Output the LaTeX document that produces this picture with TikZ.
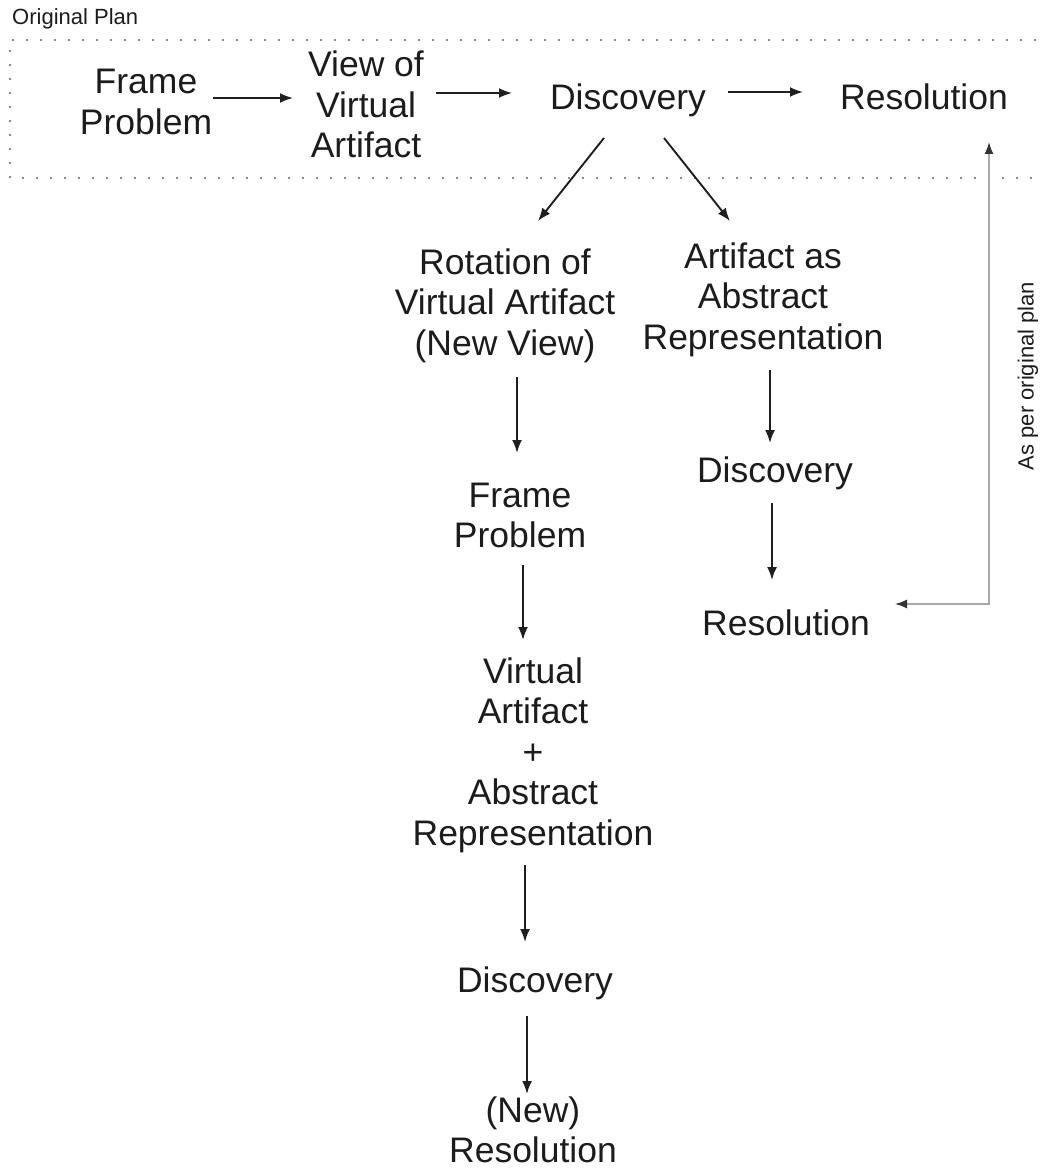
\documentclass[tikz,border=0pt]{standalone}
\usepackage{fontspec}
\setmainfont{Liberation Sans}
\usetikzlibrary{arrows.meta,calc}
\definecolor{txt}{HTML}{1C1C1C}
\definecolor{dotc}{HTML}{8A8A8A}
\definecolor{grayline}{HTML}{A8A8A8}
\tikzset{
  lbl/.style={anchor=base,align=center,inner sep=0pt,text=txt,font=\fontsize{35.5}{40.5}\selectfont},
  small/.style={inner sep=0pt,text=txt,font=\fontsize{22}{26}\selectfont},
  arr/.style={line width=1.9pt,draw=black!88,-{Latex[length=13pt,width=10pt]}},
  backarr/.style={line width=1.4pt,draw=grayline,{Latex[length=12pt,width=9pt,color=black!80]}-{Latex[length=12pt,width=9pt,color=black!80]}},
  planbox/.style={draw=dotc,line width=2pt,dash pattern=on 1.6pt off 12.4pt}
}
\begin{document}
\begin{tikzpicture}[x=1pt,y=-1pt]
\useasboundingbox (0,0) rectangle (1039,1169);
% dotted frame of the original plan
\draw[planbox] (1050,40) -- (10,40) -- (10,178) -- (1050,178);
\node[small,anchor=base west] (plan) at (12,25) {Original Plan};
% top row (base = baseline of the last line)
\node[lbl] (fp1) at (146,134.5) {Frame\\Problem};
\node[lbl] (voa) at (366,158) {View of\\Virtual\\Artifact};
\node[lbl] (d1) at (628,110) {Discovery};
\node[lbl] (r1) at (924,110) {Resolution};
% left branch
\node[lbl] (rot) at (505,355) {Rotation of\\Virtual Artifact\\(New View)};
\node[lbl] (fp2) at (520,547.5) {Frame\\Problem};
\node[lbl] (vaar) at (533,845) {Virtual\\Artifact\\+\\Abstract\\Representation};
\node[lbl] (d2) at (535,992) {Discovery};
\node[lbl] (nr) at (533,1162.5) {(New)\\Resolution};
% right branch
\node[lbl] (aaa) at (763,349) {Artifact as\\Abstract\\Representation};
\node[lbl] (d3) at (775,482) {Discovery};
\node[lbl] (r3) at (786,635) {Resolution};
% side label
\node[small,rotate=90] (asper) at (1028,376) {As per original plan};
% connectors
\draw[arr] ($(fp1.base)+(67,-36.5)$) -- ($(voa.base)+(-73,-60)$);
\draw[arr] ($(voa.base)+(70,-65)$) -- ($(d1.base)+(-116,-17)$);
\draw[arr] ($(d1.base)+(100,-18)$) -- ($(r1.base)+(-121,-18)$);
\draw[arr] ($(d1.base)+(-24,28)$) -- ($(rot.base)+(33,-134)$);
\draw[arr] ($(d1.base)+(36,28)$) -- ($(aaa.base)+(-33,-128)$);
\draw[arr] ($(rot.base)+(12,22)$) -- ($(fp2.base)+(-3,-94.5)$);
\draw[arr] ($(fp2.base)+(3,17.5)$) -- ($(vaar.base)+(-10,-205)$);
\draw[arr] ($(vaar.base)+(-8,20)$) -- ($(d2.base)+(-10,-50)$);
\draw[arr] ($(d2.base)+(-8,24)$) -- ($(nr.base)+(-6,-68.5)$);
\draw[arr] ($(aaa.base)+(7,21)$) -- ($(d3.base)+(-5,-39)$);
\draw[arr] ($(d3.base)+(-3,21)$) -- ($(r3.base)+(-14,-55)$);
\draw[backarr] ($(r3.base)+(109,-31)$) -- ($(r3.base)+(203,-31)$) -- ($(r1.base)+(65,32)$);
\end{tikzpicture}
\end{document}
